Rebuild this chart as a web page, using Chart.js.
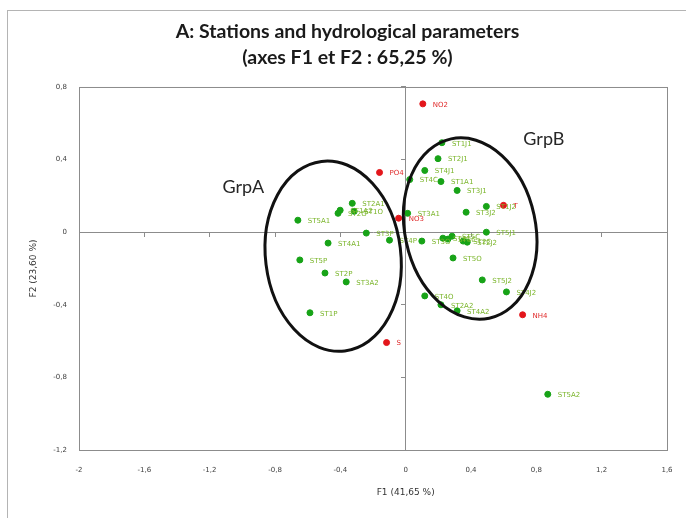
<!DOCTYPE html>
<html>
<head>
<meta charset="utf-8">
<script src="https://cdn.jsdelivr.net/npm/chart.js"></script>
<style>
  html, body { margin: 0; padding: 0; background: #fff; }
  #wrap { width: 686px; height: 518px; }
</style>
</head>
<body>
<div id="wrap"><canvas id="pca"></canvas></div>
<script>
// Stations (F1, F2 coordinates)
const stationNames = ['ST1J1','ST2J1','ST4J1','ST4C','ST1A1','ST3J1','ST3A1','ST3J2','ST1J2','ST5J1',
  'ST5A1','ST2O','ST1A2','ST2A1','ST1O','ST3P','ST4A1','ST4P','ST5P','ST2P','ST3A2','ST1P',
  'ST3O','ST1C','ST5C','ST2C','ST2J2','ST5O','ST5J2','ST4J2','ST4O','ST2A2','ST4A2','ST5A2','ST3C'];
const stationF1 = [0.222, 0.198, 0.117, 0.025, 0.216, 0.315, 0.012, 0.370, 0.494, 0.494,
  -0.660, -0.414, -0.401, -0.327, -0.315, -0.241, -0.475, -0.099, -0.648, -0.494, -0.364, -0.586,
  0.099, 0.228, 0.284, 0.352, 0.377, 0.290, 0.469, 0.617, 0.117, 0.216, 0.315, 0.870, 0.259];
const stationF2 = [0.493, 0.405, 0.340, 0.290, 0.279, 0.230, 0.104, 0.110, 0.142, 0.000,
  0.066, 0.104, 0.121, 0.159, 0.115, -0.005, -0.060, -0.044, -0.153, -0.225, -0.274, -0.444,
  -0.049, -0.033, -0.022, -0.049, -0.055, -0.142, -0.263, -0.329, -0.351, -0.400, -0.433, -0.893, -0.038];

// Hydrological parameters
const paramNames = ['NO2', 'PO4', 'NO3', 'T', 'NH4', 'S'];
const paramF1 = [0.105, -0.160, -0.043, 0.599, 0.716, -0.117];
const paramF2 = [0.707, 0.329, 0.077, 0.148, -0.455, -0.608];

// Groups drawn as ellipses (centre, half-spans in axis units, tilt in degrees)
const groupNames = ['GrpA', 'GrpB'];
const groupF1 = [-0.444, 0.395];
const groupF2 = [-0.132, 0.020];
const groupSpanF1 = [0.414, 0.400];
const groupSpanF2 = [0.526, 0.505];
const groupTilt = [-7, -12];
const groupLabelF1 = [-0.994, 0.846];
const groupLabelF2 = [0.247, 0.510];

const xTickValues = [-2, -1.6, -1.2, -0.8, -0.4, 0, 0.4, 0.8, 1.2, 1.6];
const yTickValues = [-1.2, -0.8, -0.4, 0, 0.4, 0.8];

const titleLines = ['A: Stations and hydrological parameters', '(axes F1 et F2 : 65,25 %)'];
const xAxisTitle = 'F1 (41,65 %)';
const yAxisTitle = 'F2 (23,60 %)';

const fmt = v => String(v).replace('.', ',');
const toPoints = (xs, ys) => xs.map((v, i) => ({ x: v, y: ys[i] }));
const axisGrey = '#8c8c8c';
const tickFont = { family: 'DejaVu Sans', size: 7 };

// outer box + plot frame
const frame = {
  id: 'frame',
  beforeDraw(chart) {
    const { ctx, chartArea: a } = chart;
    ctx.save();
    ctx.fillStyle = '#fff';
    ctx.fillRect(0, 0, chart.width, chart.height);
    ctx.strokeStyle = '#b4b4b4';
    ctx.lineWidth = 1;
    ctx.strokeRect(7.5, 10.5, chart.width, chart.height);
    ctx.strokeStyle = axisGrey;
    ctx.strokeRect(a.left + 0.5, a.top + 0.5, a.right - a.left, a.bottom - a.top);
    ctx.restore();
  }
};

// text next to each point
const pointLabels = {
  id: 'pointLabels',
  afterDatasetsDraw(chart) {
    const ctx = chart.ctx;
    ctx.save();
    ctx.font = '7px "DejaVu Sans"';
    ctx.textBaseline = 'middle';
    chart.data.datasets.forEach((ds, i) => {
      ctx.fillStyle = ds.labelColor;
      chart.getDatasetMeta(i).data.forEach((pt, j) => {
        ctx.fillText(ds.names[j], pt.x + 10, pt.y + 1);
      });
    });
    ctx.restore();
  }
};

// group ellipses and their names
const groups = {
  id: 'groups',
  afterDatasetsDraw(chart) {
    const { ctx, scales: { x, y } } = chart;
    ctx.save();
    ctx.lineWidth = 3;
    ctx.strokeStyle = '#111';
    ctx.fillStyle = '#262626';
    ctx.font = '18px Lato';
    ctx.textAlign = 'center';
    ctx.textBaseline = 'middle';
    groupNames.forEach((name, i) => {
      const cx = x.getPixelForValue(groupF1[i]);
      const cy = y.getPixelForValue(groupF2[i]);
      const rx = Math.abs(x.getPixelForValue(groupF1[i] + groupSpanF1[i]) - cx);
      const ry = Math.abs(y.getPixelForValue(groupF2[i] + groupSpanF2[i]) - cy);
      ctx.beginPath();
      ctx.ellipse(cx, cy, rx, ry, groupTilt[i] * Math.PI / 180, 0, 2 * Math.PI);
      ctx.stroke();
      ctx.fillText(name, x.getPixelForValue(groupLabelF1[i]), y.getPixelForValue(groupLabelF2[i]));
    });
    ctx.restore();
  }
};

const xTitle = {
  id: 'xTitle',
  afterDraw(chart) {
    const { ctx, scales: { x } } = chart;
    ctx.save();
    ctx.font = '9px "DejaVu Sans"';
    ctx.fillStyle = '#333';
    ctx.textAlign = 'center';
    ctx.textBaseline = 'middle';
    ctx.fillText(xAxisTitle, x.getPixelForValue(0), 493);
    ctx.restore();
  }
};

new Chart(document.getElementById('pca'), {
  type: 'scatter',
  data: {
    datasets: [
      {
        label: 'Stations',
        data: toPoints(stationF1, stationF2),
        names: stationNames,
        labelColor: '#7ab52a',
        backgroundColor: '#17a317',
        borderColor: '#17a317',
        pointRadius: 3
      },
      {
        label: 'Parameters',
        data: toPoints(paramF1, paramF2),
        names: paramNames,
        labelColor: '#e02a2a',
        backgroundColor: '#e3161b',
        borderColor: '#e3161b',
        pointRadius: 3
      }
    ]
  },
  options: {
    responsive: true,
    maintainAspectRatio: false,
    animation: false,
    layout: { padding: { left: 28, right: 19, top: 0, bottom: 0 } },
    plugins: {
      legend: { display: false },
      tooltip: { enabled: false },
      title: {
        display: true,
        text: titleLines,
        color: '#1a1a1a',
        font: { family: 'Lato', size: 19.5, weight: 'bold', lineHeight: 1.333 },
        padding: { top: 19, bottom: 16 }
      }
    },
    scales: {
      x: {
        type: 'linear', position: 'bottom', min: -2, max: 1.6,
        afterBuildTicks: s => { s.ticks = xTickValues.map(v => ({ value: v })); },
        afterFit: s => { s.height = 68; s.paddingLeft = 0; s.paddingRight = 0; },
        grid: { display: false, drawTicks: false },
        border: { display: false },
        ticks: { padding: 16, autoSkip: false, maxRotation: 0, color: '#404040', font: tickFont, callback: v => fmt(v) }
      },
      y: {
        type: 'linear', position: 'left', min: -1.2, max: 0.8,
        afterBuildTicks: s => { s.ticks = yTickValues.map(v => ({ value: v })); },
        afterFit: s => { s.width = 51; },
        grid: { display: false, drawTicks: false },
        border: { display: false },
        ticks: { padding: 12, autoSkip: false, color: '#404040', font: tickFont, callback: v => fmt(v) },
        title: { display: true, text: yAxisTitle, padding: 0, color: '#333', font: { family: 'DejaVu Sans', size: 9 } }
      },
      // axes crossing at the origin
      x0: {
        type: 'linear', axis: 'x', min: -2, max: 1.6, position: { y: 0 },
        afterBuildTicks: s => { s.ticks = xTickValues.map(v => ({ value: v })); },
        afterFit: s => { s.height = 0; s.paddingLeft = 0; s.paddingRight = 0; },
        ticks: { display: false },
        grid: { drawOnChartArea: false, drawTicks: true, tickLength: 4, color: axisGrey },
        border: { color: axisGrey, width: 1 }
      },
      y0: {
        type: 'linear', axis: 'y', min: -1.2, max: 0.8, position: { x: 0 },
        afterBuildTicks: s => { s.ticks = yTickValues.map(v => ({ value: v })); },
        afterFit: s => { s.width = 0; },
        ticks: { display: false },
        grid: { drawOnChartArea: false, drawTicks: true, tickLength: 4, color: axisGrey },
        border: { color: axisGrey, width: 1 }
      }
    }
  },
  plugins: [frame, pointLabels, groups, xTitle]
});
</script>
</body>
</html>
